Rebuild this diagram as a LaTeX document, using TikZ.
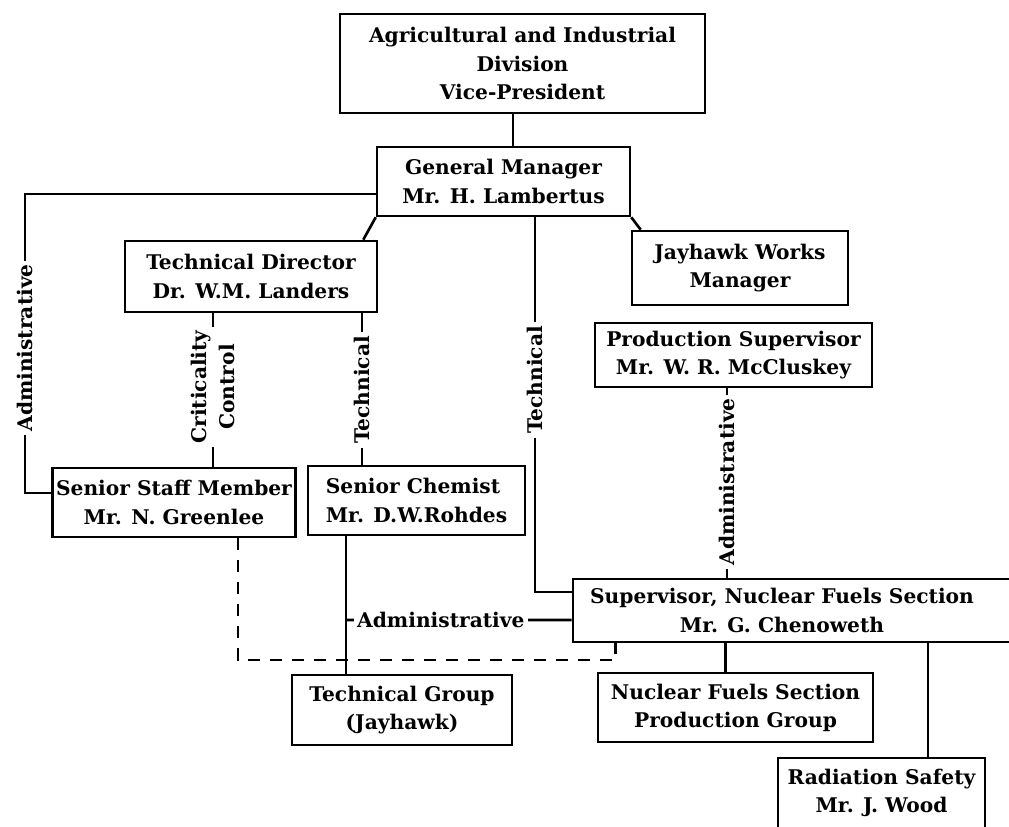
\documentclass[tikz,border=0pt]{standalone}
\usepackage{fontspec}
\setmainfont{DejaVu Serif}
\tikzset{
  orgbox/.style={shape=rectangle, draw, align=center, inner sep=2pt},
  vlabel/.style={rotate=90, fill=white, inner sep=2pt, align=center},
  hlabel/.style={fill=white, inner sep=2pt},
  dashline/.style={dash pattern=on 0.24cm off 0.2cm}
}

\begin{document}
\begin{tikzpicture}[x=0.02cm, y=-0.02cm, line width=1.5pt,
  every node/.style={font=\bfseries\fontsize{11.5}{16}\selectfont}]
\useasboundingbox (0,0) rectangle (1009,827);
\clip (0,0) rectangle (1009,827);
\begin{scope}[nodes=orgbox]
  \node[minimum width=7.30cm, minimum height=1.98cm] (vp)  at (522.5, 63.5) {Agricultural and Industrial\\Division\\Vice-President};
  \node[minimum width=5.06cm, minimum height=1.38cm] (gm)  at (503.5,181.5) {General Manager\\Mr. H. Lambertus};
  \node[minimum width=5.04cm, minimum height=1.42cm] (td)  at (251  ,276.5) {Technical Director\\Dr. W.M. Landers};
  \node[minimum width=4.32cm, minimum height=1.48cm] (jw)  at (740  ,268  ) {Jayhawk Works\\Manager};
  \node[minimum width=5.54cm, minimum height=1.28cm] (ps)  at (733.5,355  ) {Production Supervisor\\Mr. W. R. McCluskey};
  \node[minimum width=4.76cm, minimum height=1.38cm] (ssm) at (174  ,502.5) {Senior Staff Member\\Mr. N. Greenlee};
  \node[minimum width=4.34cm, minimum height=1.38cm, align=left] (sc) at (416.5,500.5) {Senior Chemist\\Mr. D.W.Rohdes};
  \node[minimum width=9.14cm, minimum height=1.26cm,
        label={[draw=none, xshift=-0.39cm, align=center]center:{Supervisor, Nuclear Fuels Section\\Mr. G. Chenoweth}}] (sup) at (801.5,610.5) {};
  \node[minimum width=4.40cm, minimum height=1.40cm] (tg)  at (402  ,710  ) {Technical Group\\(Jayhawk)};
  \node[minimum width=5.50cm, minimum height=1.38cm] (nfs) at (735.5,707.5) {Nuclear Fuels Section\\Production Group};
  \node[minimum width=4.14cm, minimum height=1.40cm] (rs)  at (881.5,793  ) {Radiation Safety\\Mr. J. Wood};
\end{scope}
% label points on the lines
\coordinate (admA) at ( 25,348);
\coordinate (crit) at (213,387);
\coordinate (tecA) at (362,390);
\coordinate (tecB) at (535,380);
\coordinate (join) at (346,620);
\coordinate (dsh)  at (238,660);
\coordinate (admB) at (727,482);
% lines of authority
\draw ([xshift=-0.19cm]vp.south) -- ([xshift=-0.19cm]vp.south |- gm.north);
\draw (gm.south west) -- ([xshift=-0.3cm]td.north east);
\draw (gm.south east) -- ([xshift=0.2cm]jw.north west);
\draw ([yshift=-0.25cm]gm.west) -| (admA) node[vlabel] {Administrative} |- ([yshift=0.19cm]ssm.west);
\draw (td.south -| crit) -- (crit) node[vlabel] {Criticality\\Control} -- (ssm.north -| crit);
\draw (td.south -| tecA) -- (tecA) node[vlabel] {Technical} -- (sc.north -| tecA);
\draw (gm.south -| tecB) -- (tecB) node[vlabel] {Technical} |- ([yshift=0.37cm]sup.west);
\draw (sc.south -| join) -- (tg.north -| join);
\draw ([yshift=-0.19cm]sup.west) -- node[hlabel, pos=0.58] {Administrative} (join);
\draw[dashline] (ssm.south -| dsh) -- (dsh) -| ([xshift=0.88cm]sup.south west);
\draw (ps.south -| admB) -- (admB) node[vlabel] {Administrative} -- (sup.north -| admB);
\draw ([xshift=-0.2cm]nfs.north) -- ([xshift=-0.2cm]nfs.north |- sup.south);
\draw ([xshift=0.93cm]rs.north) -- ([xshift=0.93cm]rs.north |- sup.south);
\end{tikzpicture}
\end{document}
